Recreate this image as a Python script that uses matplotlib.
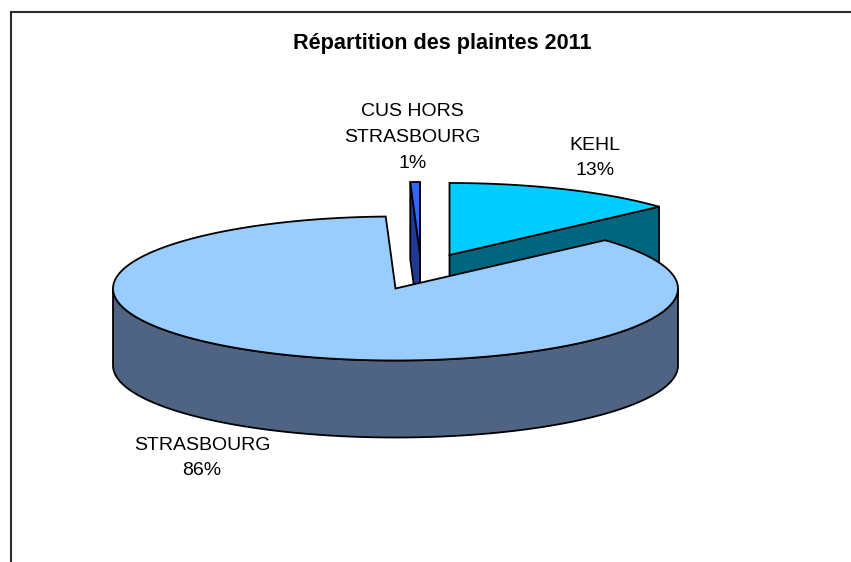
import numpy as np
import matplotlib
matplotlib.use("Agg")
import matplotlib.pyplot as plt
from matplotlib.patches import Polygon

plt.rcParams["font.family"] = ["Liberation Sans", "DejaVu Sans"]

title = "Répartition des plaintes 2011"
categories = ["KEHL", "STRASBOURG", "CUS HORS\nSTRASBOURG"]
shares = [13.3, 86.15, 0.55]
pct_labels = ["13%", "86%", "1%"]

top_colors = ["#00CCFF", "#99CCFF", "#3366FF"]
side_colors = ["#006680", "#4F6482", "#1F3A93"]
centers = [(449.5, 255.0), (395.5, 288.5), (420.0, 254.0)]
label_pos = [(595, 158), (202, 458), (412.5, 137.5)]

RX, RY, DEPTH = 282.5, 72.0, 77.0
EDGE = dict(edgecolor="black", linewidth=1.3, joinstyle="miter")

fig = plt.figure(figsize=(8.51, 5.62), dpi=100, facecolor="white")
ax = fig.add_axes([0, 0, 1, 1])
ax.set_xlim(0, 851)
ax.set_ylim(562, 0)
ax.axis("off")


def rim(c, a0, a1):
    t = np.radians(np.linspace(a0, a1, 160))
    return np.column_stack([c[0] + RX * np.cos(t), c[1] - RY * np.sin(t)])


# slice angles, clockwise from the top of the pie
total = sum(shares)
angles = [90.0]
for s in shares:
    angles.append(angles[-1] - 360.0 * s / total)
spans = list(zip(angles[:-1], angles[1:]))

# cut faces and walls behind the big slice
for i in (0, 2):
    c = np.array(centers[i])
    a0, a1 = spans[i]
    for a in (a0, a1):
        p = rim(c, a, a)[0]
        quad = [c, p, p + (0, DEPTH), c + (0, DEPTH)]
        ax.add_patch(Polygon(quad, closed=True, facecolor=side_colors[i], **EDGE))
    ax.add_patch(Polygon(np.vstack([c, rim(c, a0, a1)]), closed=True,
                         facecolor=top_colors[i], **EDGE))

# big slice: front wall, then top
c = np.array(centers[1])
wall = rim(c, 180, 360)
ax.add_patch(Polygon(np.vstack([wall, (wall + (0, DEPTH))[::-1]]), closed=True,
                     facecolor=side_colors[1], **EDGE))
ax.add_patch(Polygon(np.vstack([c, rim(c, *spans[1])]), closed=True,
                     facecolor=top_colors[1], **EDGE))

# chart frame, cut off by the right and bottom image edges
ax.plot([11, 11, 851], [562, 12, 12], color="#2B2B2B", lw=1.5,
        solid_joinstyle="miter")

ax.text(442.5, 44, title, ha="center", va="center", fontsize=15.6,
        fontweight="bold", color="black")
for cat, pct, (x, y) in zip(categories, pct_labels, label_pos):
    ax.text(x, y, f"{cat}\n{pct}", ha="center", va="center", fontsize=14,
            linespacing=1.66, color="black")

fig.savefig("out.png", dpi=100)
